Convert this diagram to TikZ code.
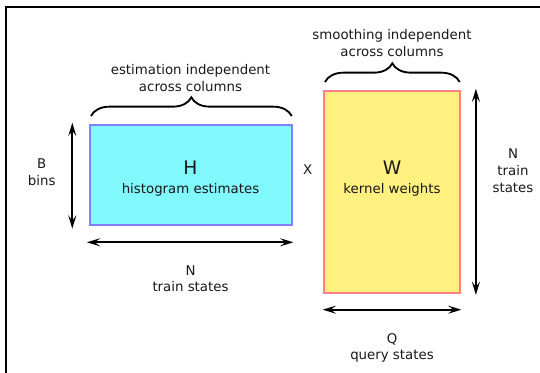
\documentclass[tikz,border=0pt]{standalone}
\usepackage{fontspec}
\setmainfont{DejaVu Sans}
\usetikzlibrary{arrows.meta, positioning, calc, decorations.pathreplacing}
\definecolor{hfill}{RGB}{128,248,252}
\definecolor{hdraw}{RGB}{128,128,255}
\definecolor{wfill}{RGB}{255,240,128}
\definecolor{wdraw}{RGB}{255,128,128}

\begin{document}
\begin{tikzpicture}[
  x=0.75pt, y=-0.75pt,
  every node/.style={font=\fontsize{10}{12.5}\selectfont, align=center, inner sep=0pt, text=black!90},
  hbox/.style={rectangle, draw=hdraw, fill=hfill, line width=1.5pt, minimum width=151.5pt, minimum height=75pt},
  wbox/.style={rectangle, draw=wdraw, fill=wfill, line width=1.5pt, minimum width=102pt, minimum height=151.5pt},
  bigletter/.style={font=\fontsize{14}{16}\selectfont},
  dimarrow/.style={{Stealth[length=10pt,width=6pt,inset=4pt]}-{Stealth[length=10pt,width=6pt,inset=4pt]}, line width=1.4pt},
  colbrace/.style={decorate, decoration={brace, amplitude=14pt}, line width=1.4pt},
]
\useasboundingbox (0,0) rectangle (540,373);
\clip (0,0) rectangle (540,373);
\draw[line width=1.5pt] (6,7.5) rectangle (560,400);

% the two matrices
\node[hbox] (H) at (190.5,175.5) {};
\node[wbox] (W) at (392,192) {};
\node[bigletter] (Hsym) at (190.5,168.2) {H};
\node (Hdesc) at (190.5,189.7) {histogram estimates};
\node[bigletter] (Wsym) at (392,168.2) {W};
\node (Wdesc) at (392,189.7) {kernel weights};
\node (times) at (307.8,169.7) {X};

% dimensions
\coordinate (bTop) at (72.3,122.7);
\coordinate (bBot) at (72.3,228.7);
\coordinate (nLeft) at (86.8,242.3);
\coordinate (nRight) at (293.4,242.3);
\coordinate (wTop) at (475.9,88.7);
\coordinate (wBot) at (475.9,295);
\coordinate (qLeft) at (322.7,309.7);
\coordinate (qRight) at (461.4,309.7);
\draw[dimarrow] (bTop) -- (bBot);
\draw[dimarrow] (nLeft) -- (nRight);
\draw[dimarrow] (wTop) -- (wBot);
\draw[dimarrow] (qLeft) -- (qRight);
\node (bins) at (41.7,172) {B\\bins};
\node (hcols) at (190.5,278.9) {N\\train states};
\node (wrows) at (513,170.8) {N\\train\\states};
\node (wcols) at (392,348) {Q\\query states};

% braces
\coordinate (hbL) at (91,116);
\coordinate (hbR) at (291.7,116);
\coordinate (wbL) at (325,82);
\coordinate (wbR) at (459.7,82);
\draw[colbrace] (hbL) -- (hbR);
\draw[colbrace] (wbL) -- (wbR);
\node (hnote) at (190.5,78) {estimation independent\\across columns};
\node (wnote) at (392,43.3) {smoothing independent\\across columns};
\end{tikzpicture}
\end{document}
